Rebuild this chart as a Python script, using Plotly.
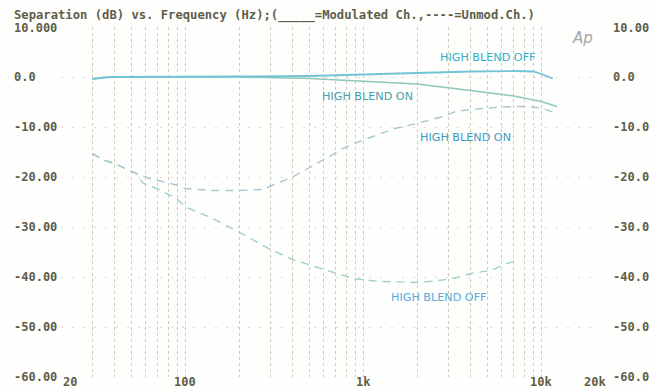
import numpy as np
import plotly.graph_objects as go

# ---------------- data ----------------
freq_off_mod = [30, 35, 40, 60, 100, 200, 500, 1000, 2000, 4000, 7000, 9000, 10000, 11600]
sep_off_mod = [-0.4, -0.1, 0.0, 0.0, 0.0, 0.1, 0.2, 0.5, 0.9, 1.1, 1.2, 1.1, 0.6, -0.3]

freq_on_mod = [30, 35, 40, 60, 100, 200, 500, 1000, 2000, 4000, 7000, 10000, 12200]
sep_on_mod = [-0.4, -0.1, 0.0, 0.0, 0.0, 0.0, -0.3, -0.9, -1.4, -2.7, -3.8, -4.9, -5.9]

freq_on_unmod = [30, 34, 40, 53, 63, 89, 100, 140, 200, 270, 400, 600, 800, 1000,
                 1500, 2000, 2800, 3300, 4000, 6000, 8000, 10000, 12200]
sep_on_unmod = [-15.3, -16.5, -17.3, -19.3, -20.3, -21.6, -22.3, -22.7, -22.7, -22.5,
                -20.0, -16.5, -14.0, -12.6, -10.3, -9.3, -7.9, -6.9, -6.5, -6.0, -5.9, -6.2, -7.3]

freq_off_unmod = [30, 34, 40, 53, 58, 69, 89, 100, 137, 200, 300, 400, 500, 700, 874,
                  1234, 2070, 2790, 3340, 4050, 5300, 6050, 7400]
sep_off_unmod = [-15.3, -16.5, -17.3, -19.3, -21.3, -22.3, -24.3, -26.0, -28.0, -31.0,
                 -34.5, -36.5, -37.6, -39.3, -40.3, -40.9, -41.1, -40.6, -40.1, -39.3,
                 -38.6, -37.6, -36.6]

grid_freqs = [20, 30, 40, 50, 60, 70, 80, 90, 100, 200, 300, 400, 500, 600, 700, 800, 900,
              1000, 2000, 3000, 4000, 5000, 6000, 7000, 8000, 9000, 10000, 20000]
x_tick_vals = [20, 100, 1000, 10000, 20000]
x_tick_text = ["20", "100", "1k", "10k", "20k"]

y_tick_vals = [10, 0, -10, -20, -30, -40, -50, -60]
y_left_text = ["10.000", "0.0", "-10.00", "-20.00", "-30.00", "-40.00", "-50.00", "-60.00"]
y_right_text = ["10.00", "0.0", "-10.0", "-20.0", "-30.0", "-40.0", "-50.0", "-60.0"]

curve_labels = ["HIGH BLEND OFF", "HIGH BLEND ON", "HIGH BLEND ON", "HIGH BLEND OFF"]
curve_label_freq = [5020, 1057, 3730, 2650]
curve_label_db = [3.9, -3.8, -12.1, -44.0]

title_text = "Separation (dB) vs. Frequency (Hz);(_____=Modulated Ch.,----=Unmod.Ch.)"

# ---------------- styles ----------------
W, H = 650, 390
ML, MT = 61, 27
PW, PH = 534, 350
MR, MB = W - ML - PW, H - MT - PH
TXT = "#5d5d4a"
MONO = "DejaVu Sans Mono"


def px_x(px):   # reference pixel -> paper x
    return (px - ML) / PW


def px_y(px):   # reference pixel -> paper y
    return (MT + PH - px) / PH


fig = go.Figure()

fig.add_trace(go.Scatter(x=freq_off_unmod, y=sep_off_unmod, mode="lines",
                         line=dict(color="#9fd0c6", width=1.4, dash="8px,6px"),
                         showlegend=False, hoverinfo="skip"))
fig.add_trace(go.Scatter(x=freq_on_unmod, y=sep_on_unmod, mode="lines",
                         line=dict(color="#a9c6d2", width=1.4, dash="8px,6px"),
                         showlegend=False, hoverinfo="skip"))
fig.add_trace(go.Scatter(x=freq_on_mod, y=sep_on_mod, mode="lines",
                         line=dict(color="#8cc8bc", width=1.6),
                         showlegend=False, hoverinfo="skip"))
fig.add_trace(go.Scatter(x=freq_off_mod, y=sep_off_mod, mode="lines",
                         line=dict(color="#72c4d6", width=1.8),
                         showlegend=False, hoverinfo="skip"))

ann = []
ann.append(dict(text=title_text, xref="paper", yref="paper",
                x=px_x(12), y=px_y(15), xanchor="left", yanchor="middle",
                showarrow=False, font=dict(family=MONO, size=12.2, color=TXT, weight="bold")))
for v, tl, tr in zip(y_tick_vals, y_left_text, y_right_text):
    ann.append(dict(text=tl, xref="paper", yref="y", x=px_x(12), y=v,
                    xanchor="left", yanchor="middle", showarrow=False,
                    yshift=-1 if v == 10 else 0,
                    font=dict(family=MONO, size=12, color=TXT, weight="bold")))
    ann.append(dict(text=tr, xref="paper", yref="y", x=px_x(611), y=v,
                    xanchor="left", yanchor="middle", showarrow=False,
                    yshift=-1 if v == 10 else 0,
                    font=dict(family=MONO, size=12, color=TXT, weight="bold")))
for f, t in zip(x_tick_vals, x_tick_text):
    ann.append(dict(text=t, xref="x", yref="paper", x=np.log10(f), y=px_y(382),
                    xanchor="left" if f == 20 else "center", yanchor="middle", showarrow=False,
                    font=dict(family=MONO, size=12, color=TXT, weight="bold")))
label_colors = ["#3aaec4", "#4a9eaa", "#3a9cc2", "#58acde"]
for t, f, d, c in zip(curve_labels, curve_label_freq, curve_label_db, label_colors):
    ann.append(dict(text=t, xref="x", yref="y", x=np.log10(f), y=d,
                    xanchor="center", yanchor="middle", showarrow=False,
                    font=dict(family="DejaVu Sans", size=11.2, color=c)))
ann.append(dict(text="<i>Ap</i>", xref="paper", yref="paper",
                x=px_x(582), y=px_y(37.5), xanchor="center", yanchor="middle",
                showarrow=False, font=dict(family="DejaVu Sans", size=15, color="#a6a6a6")))

fig.update_layout(
    width=W, height=H,
    margin=dict(l=ML, r=MR, t=MT, b=MB, pad=0),
    paper_bgcolor="#fefefc", plot_bgcolor="#fefefc",
    annotations=ann,
    showlegend=False,
)
fig.update_xaxes(type="log", range=[np.log10(20), np.log10(20000)],
                 tickvals=grid_freqs, ticktext=[""] * len(grid_freqs),
                 showgrid=True, gridcolor="#cdcdb6", griddash="dot", gridwidth=1,
                 showline=False, zeroline=False, ticks="")
fig.update_yaxes(range=[-60, 10], tickvals=y_tick_vals, ticktext=[""] * len(y_tick_vals),
                 showgrid=True, gridcolor="#dcdccc", griddash="2px,9px", gridwidth=1,
                 showline=False, zeroline=False, ticks="")

fig.write_html("out.html",
               config={"displayModeBar": False},
               post_script="document.body.style.margin='0';document.body.style.overflow='hidden';")
